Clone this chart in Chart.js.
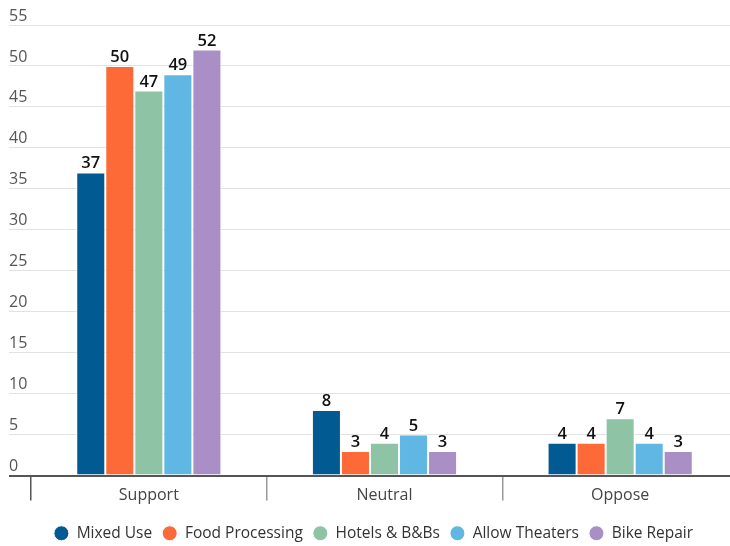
<!DOCTYPE html>
<html>
<head>
<meta charset="utf-8">
<script src="https://cdn.jsdelivr.net/npm/chart.js@4/dist/chart.umd.min.js"></script>
<style>
html,body{margin:0;padding:0;background:#fff;overflow:hidden;width:730px;height:546px;}
#wrap{position:absolute;left:0;top:0;width:738px;height:546px;}
</style>
</head>
<body>
<div id="wrap"><canvas id="c" width="738" height="546"></canvas></div>
<script>
const categories = ['Support', 'Neutral', 'Oppose'];
const seriesNames = ['Mixed Use', 'Food Processing', 'Hotels & B&Bs', 'Allow Theaters', 'Bike Repair'];
const mixedUse = [37, 8, 4];
const foodProcessing = [50, 3, 4];
const hotelsBnbs = [47, 4, 7];
const allowTheaters = [49, 5, 4];
const bikeRepair = [52, 3, 3];
const yTicks = [0, 5, 10, 15, 20, 25, 30, 35, 40, 45, 50, 55];

const colors = ['#015a91', '#fd6a38', '#8ec3a5', '#60b7e4', '#aa8fc7'];
const FONT = "'Open Sans', sans-serif";
const allSeries = [mixedUse, foodProcessing, hotelsBnbs, allowTheaters, bikeRepair];

const valueLabels = {
  id: 'valueLabels',
  afterDatasetsDraw(chart) {
    const ctx = chart.ctx;
    ctx.save();
    ctx.font = "600 16.5px " + FONT;
    ctx.fillStyle = '#111';
    ctx.textAlign = 'center';
    ctx.textBaseline = 'alphabetic';
    chart.data.datasets.forEach((ds, i) => {
      const meta = chart.getDatasetMeta(i);
      meta.data.forEach((el, j) => {
        ctx.fillText(String(ds.data[j]), el.x, el.y - 4);
      });
    });
    ctx.restore();
  }
};

new Chart(document.getElementById('c'), {
  type: 'bar',
  data: {
    labels: categories,
    datasets: allSeries.map((d, i) => ({
      label: seriesNames[i],
      data: d,
      backgroundColor: colors[i],
      borderColor: '#ffffff',
      borderWidth: 1,
      barPercentage: 1,
      categoryPercentage: 0.616
    }))
  },
  options: {
    responsive: false,
    animation: false,
    layout: { padding: { left: 9, top: 25, right: 0, bottom: -5 } },
    plugins: {
      legend: {
        position: 'bottom',
        labels: {
          usePointStyle: true,
          pointStyle: 'circle',
          boxWidth: 15,
          boxHeight: 10.6,
          padding: 10,
          color: '#333',
          font: { family: FONT, size: 15.5 }
        }
      },
      tooltip: { enabled: false }
    },
    scales: {
      x: {
        border: { display: false },
        grid: {
          offset: true,
          drawOnChartArea: false,
          drawTicks: true,
          tickLength: 25,
          color: (c) => c.index === 0 ? '#555' : '#999',
          lineWidth: 1.5
        },
        ticks: {
          color: '#444',
          font: { family: FONT, size: 16 },
          padding: -15
        },
        afterFit(s) { s.height = 40; }
      },
      y: {
        min: 0,
        max: 55,
        border: { display: false },
        afterBuildTicks(s) { s.ticks = yTicks.map(v => ({ value: v })); },
        grid: {
          drawTicks: true,
          tickLength: 22,
          color: (c) => c.tick && c.tick.value === 0 ? '#555' : '#e2e2e2',
          lineWidth: (c) => c.tick && c.tick.value === 0 ? 2 : 1
        },
        ticks: {
          color: '#555',
          crossAlign: 'far',
          labelOffset: -9,
          font: { family: FONT, size: 16 },
          padding: 0
        },
        afterFit(s) { s.width = 22; }
      }
    }
  },
  plugins: [valueLabels]
});
</script>
</body>
</html>
